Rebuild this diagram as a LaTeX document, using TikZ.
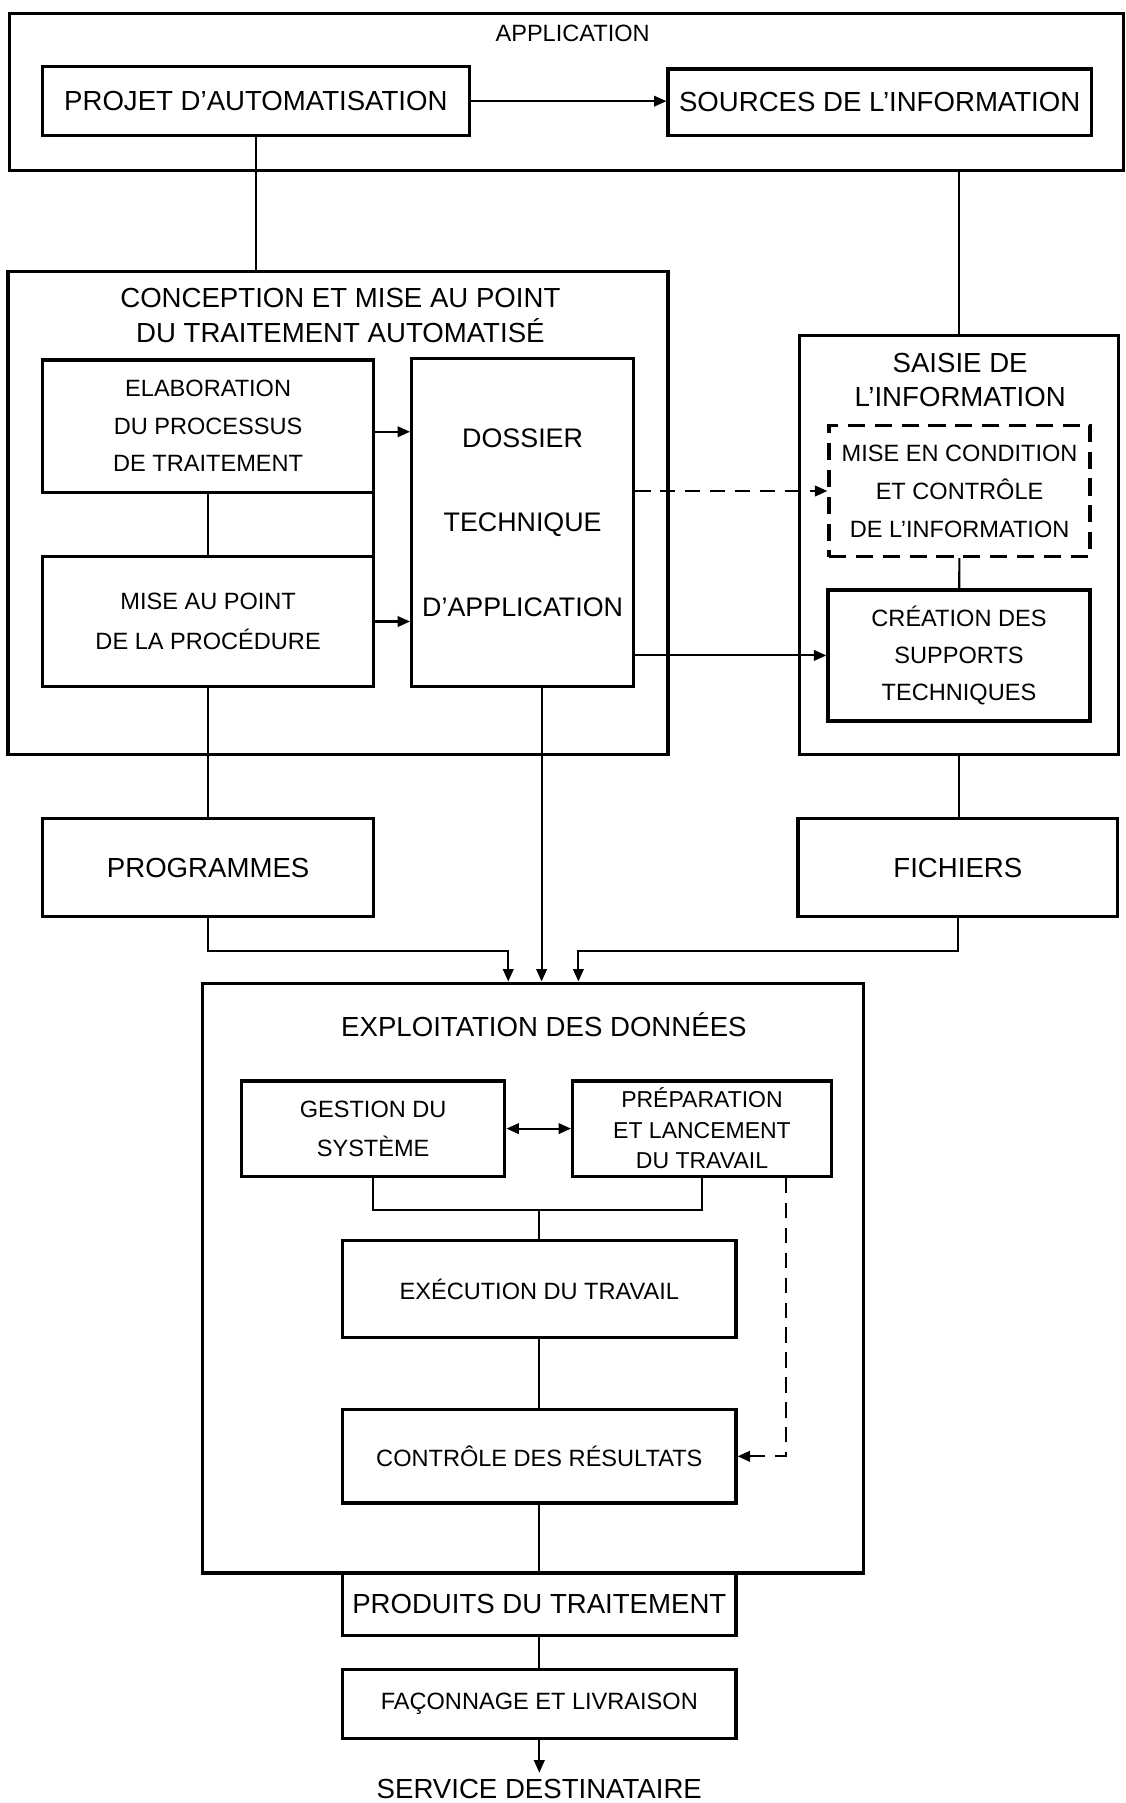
\documentclass[tikz,border=0pt]{standalone}
\usepackage{fontspec}
\setmainfont{Liberation Sans}
\usetikzlibrary{arrows.meta,calc}

\begin{document}
\begin{tikzpicture}[x=0.6pt, y=-0.6pt,
    >={Triangle[length=6.5pt,width=5.5pt]},
    box/.style={draw, line width=1.7pt, inner sep=0pt, align=center},
    frame/.style={draw, line width=1.7pt, inner sep=0pt},
    sz/.style 2 args={minimum width=#1*0.6pt, minimum height=#2*0.6pt},
    link/.style={line width=1.1pt},
    dashlink/.style={line width=1.1pt, dash pattern=on 8pt off 5pt},
    big/.style={font=\fontsize{14.4}{18}\selectfont, align=center},
    small/.style={font=\fontsize{12.3}{19.5}\selectfont, align=center}]
    \useasboundingbox (0,0) rectangle (979,1568);

    % application
    \node [frame, sz={969}{136}] (app) at (492.5,80) {};
    \node [small] (applab) at (498,29) {APPLICATION};
    \node [box, big, sz={371}{60}] (projet) at (222.5,88) {PROJET D’AUTOMATISATION};
    \node [box, big, sz={368}{58}] (sources) at (765,89) {SOURCES DE L’INFORMATION};

    % conception
    \node [frame, sz={574}{420}] (concep) at (294,446) {};
    \node [big, font=\fontsize{14.4}{18.6}\selectfont] (concepTitle) at (296,274.5)
        {CONCEPTION ET MISE AU POINT\\DU TRAITEMENT AUTOMATISÉ};
    \node [box, small, sz={288}{115}] (elab) at (181,370.5)
        {ELABORATION\\DU PROCESSUS\\DE TRAITEMENT};
    \node [box, small, sz={288}{113}, font=\fontsize{12.3}{21}\selectfont] (misept) at (181,540.5)
        {MISE AU POINT\\DE LA PROCÉDURE};
    \node [box, sz={193}{285}, font=\fontsize{14}{44}\selectfont] (dossier) at (454.5,454.5)
        {DOSSIER\\TECHNIQUE\\D’APPLICATION};

    % saisie
    \node [frame, sz={278}{364}] (saisie) at (834,474) {};
    \node [big, font=\fontsize{14.4}{17.4}\selectfont] (saisieTitle) at (835,330.5)
        {SAISIE DE\\L’INFORMATION};
    \node [box, small, sz={227}{114}, dash pattern=on 9pt off 5pt, font=\fontsize{12.3}{19.8}\selectfont]
        (condition) at (834.5,427) {MISE EN CONDITION\\ET CONTRÔLE\\DE L’INFORMATION};
    \node [box, small, sz={228}{114}, font=\fontsize{12.3}{19.2}\selectfont] (creation) at (834,570)
        {CRÉATION DES\\SUPPORTS\\TECHNIQUES};

    \node [box, big, sz={288}{85}] (programmes) at (181,754.5) {PROGRAMMES};
    \node [box, big, sz={278}{85}] (fichiers) at (833,754.5) {FICHIERS};

    % exploitation
    \node [frame, sz={575}{513}] (exploit) at (463.5,1111.5) {};
    \node [big] (exploitTitle) at (473,891) {EXPLOITATION DES DONNÉES};
    \node [box, small, sz={229}{83}, font=\fontsize{12.3}{20.4}\selectfont] (gestion) at (324.5,981.5)
        {GESTION DU\\SYSTÈME};
    \node [box, small, sz={225}{83}, font=\fontsize{12}{15.9}\selectfont] (prep) at (610.5,981.5)
        {PRÉPARATION\\ET LANCEMENT\\DU TRAVAIL};
    \node [box, small, sz={342}{84}] (exec) at (469,1121) {EXÉCUTION DU TRAVAIL};
    \node [box, small, sz={342}{81}] (controle) at (469,1266.5) {CONTRÔLE DES RÉSULTATS};
    \node [box, big, sz={342}{54}] (produits) at (469,1395) {PRODUITS DU TRAITEMENT};
    \node [box, small, sz={342}{60}] (faconnage) at (469,1482) {FAÇONNAGE ET LIVRAISON};
    \node [big] (service) at (469,1556) {SERVICE DESTINATAIRE};

    \coordinate (inprog) at (442,827);
    \coordinate (infich) at (503,827);
    \coordinate (join) at (469,1052);
    \path (prep.south east) ++(-41,0) coordinate (prepout);
    \path (dossier.south) ++(16.5,0) coordinate (dossout);

    % connectors
    \draw [link, ->] (projet.east) -- (projet.east -| sources.west);
    \draw [link] (projet.south) -- (projet.south |- concep.north);
    \draw [link] (saisie.north) -- (saisie.north |- app.south);
    \draw [link, ->] ([yshift=-3pt]elab.east) -- ([yshift=-3pt]elab.east -| dossier.west);
    \draw [link, ->] (misept.east) -- (misept.east -| dossier.west);
    \draw [link] (elab) -- (misept);
    \draw [line width=1.7pt] ([xshift=-0.85pt]elab.south east) -- ([xshift=-0.85pt]misept.north east);
    \draw [dashlink, ->] (dossier.east |- condition.west) -- (condition.west);
    \draw [link, ->] (dossier.east |- creation.west) -- (creation.west);
    \draw [link] (condition) -- (creation);
    \draw [link] (misept) -- (programmes);
    \draw [link] (saisie.south) -- (saisie.south |- fichiers.north);
    \draw [link, ->] (dossout) -- (dossout |- exploit.north);
    \draw [link, ->] (programmes.south) |- (inprog) -- (inprog |- exploit.north);
    \draw [link, ->] (fichiers.south) |- (infich) -- (infich |- exploit.north);
    \draw [link, <->] (gestion) -- (prep);
    \draw [link] (gestion.south) |- (join) -| (prep.south);
    \draw [link] (join) -- (exec);
    \draw [link] (exec) -- (controle);
    \draw [dashlink, ->] (prepout) |- (controle.east);
    \draw [link] (controle) -- (produits);
    \draw [link] (produits) -- (faconnage);
    \draw [link, ->] (faconnage) -- (service);
\end{tikzpicture}
\end{document}
